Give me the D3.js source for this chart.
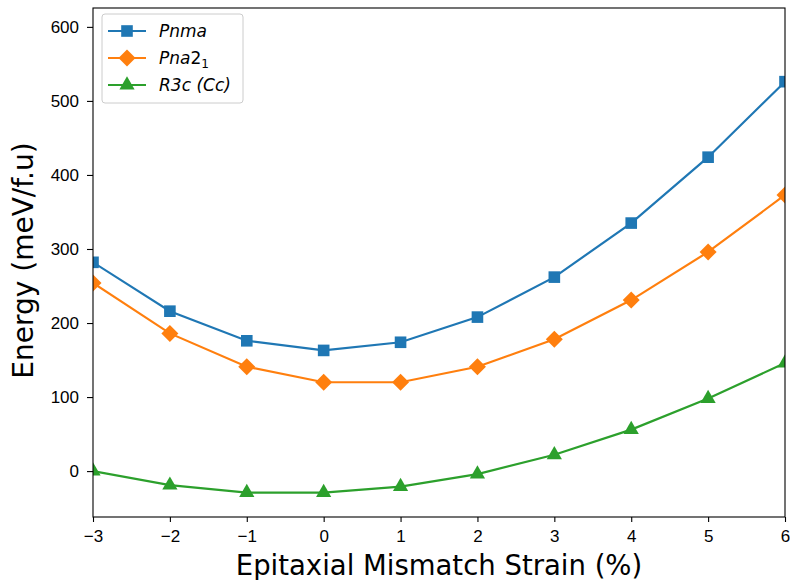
<!DOCTYPE html>
<html>
<head>
<meta charset="utf-8">
<script src="https://cdn.jsdelivr.net/npm/d3@7"></script>
<style>
  body { margin: 0; background: #fff; }
  svg { font-family: "DejaVu Sans", sans-serif; }
</style>
</head>
<body>
<div id="chart"></div>
<script>
// strain values (%) and energies (meV/f.u) per phase
var strain = [-3, -2, -1, 0, 1, 2, 3, 4, 5, 6];
var pnma = [282, 216, 176, 163, 174, 208, 262, 335, 424, 526];
var pna21 = [254, 186, 141, 120, 120, 141, 178, 231, 296, 373];
var r3c = [0, -19, -29, -29, -21, -4, 22, 56, 98, 146];
var yTicks = [0, 100, 200, 300, 400, 500, 600];

var width = 790, height = 580;
var margin = { top: 8, right: 5, bottom: 63, left: 93 };
var iw = width - margin.left - margin.right;
var ih = height - margin.top - margin.bottom;

var svg = d3.select("#chart").append("svg")
  .attr("width", width)
  .attr("height", height);

var g = svg.append("g")
  .attr("transform", `translate(${margin.left} ${margin.top})`);

var x = d3.scaleLinear().domain([-3, 6]).range([0, iw]);
var y = d3.scaleLinear().domain([-62, 625.5]).range([ih, 0]);

// axes
var minus = (d) => String(d).replace("-", "\u2212");
var xAxis = g.append("g")
  .attr("transform", `translate(0 ${ih})`)
  .call(d3.axisBottom(x).tickValues(strain).tickSize(5).tickPadding(9).tickFormat(minus));
var yAxis = g.append("g")
  .call(d3.axisLeft(y).tickValues(yTicks).tickSize(6).tickPadding(8));
[xAxis, yAxis].forEach((a) => {
  a.select(".domain").remove();
  a.selectAll("text").attr("font-size", 17).attr("fill", "#000");
  a.selectAll("line").attr("stroke", "#000").attr("stroke-width", 1.1);
});
xAxis.selectAll("text").attr("dy", "0.62em");

g.append("clipPath").attr("id", "clip")
  .append("rect").attr("width", iw).attr("height", ih);

var series = [
  { name: "Pnma", values: pnma, color: "#1f77b4", shape: d3.symbolSquare, size: 135 },
  { name: "Pna2", values: pna21, color: "#ff7f0e", shape: "diamond", size: 0 },
  { name: "R3c", values: r3c, color: "#2ca02c", shape: d3.symbolTriangle, size: 100 },
];

var diamond = (r) => `M0,${-r}L${r},0L0,${r}L${-r},0Z`;
var markerPath = (s) => s.shape == "diamond" ? diamond(8.5) : d3.symbol(s.shape, s.size)();

var line = d3.line().x((d) => x(d[0])).y((d) => y(d[1]));
var plot = g.append("g").attr("clip-path", "url(#clip)");

series.forEach((s) => {
  var pts = strain.map((v, i) => [v, s.values[i]]);
  plot.append("path")
    .attr("d", line(pts))
    .attr("fill", "none")
    .attr("stroke", s.color)
    .attr("stroke-width", 2.2);
  plot.selectAll(null).data(pts).enter().append("path")
    .attr("d", markerPath(s))
    .attr("transform", (d) => `translate(${x(d[0])} ${y(d[1])})`)
    .attr("fill", s.color);
});

// frame
g.append("rect").attr("width", iw).attr("height", ih)
  .attr("fill", "none").attr("stroke", "#000").attr("stroke-width", 1.1);

// axis labels
svg.append("text")
  .attr("x", margin.left + iw / 2).attr("y", 575)
  .attr("text-anchor", "middle").attr("font-size", 27.5)
  .text("Epitaxial Mismatch Strain (%)");
svg.append("text")
  .attr("transform", `translate(33 ${margin.top + ih / 2 - 2}) rotate(-90)`)
  .attr("text-anchor", "middle").attr("font-size", 28)
  .text("Energy (meV/f.u)");

// legend
var leg = g.append("g").attr("transform", "translate(9 6)");
leg.append("rect").attr("width", 141).attr("height", 89).attr("rx", 3)
  .attr("fill", "#fff").attr("fill-opacity", 0.8)
  .attr("stroke", "#ccc").attr("stroke-width", 1);
series.forEach((s, i) => {
  var row = leg.append("g").attr("transform", `translate(0 ${17 + i * 27})`);
  row.append("line").attr("x1", 6).attr("x2", 44)
    .attr("stroke", s.color).attr("stroke-width", 2.2);
  row.append("path").attr("d", markerPath(s))
    .attr("transform", "translate(25 0)").attr("fill", s.color);
  var t = row.append("text").attr("x", 57).attr("y", 6)
    .attr("font-size", 17).attr("fill", "#000");
  if (i == 0) {
    t.append("tspan").attr("font-style", "italic").text("Pnma");
  } else if (i == 1) {
    t.append("tspan").attr("font-style", "italic").text("Pna");
    t.append("tspan").text("2");
    t.append("tspan").attr("font-size", 12).attr("dy", 4).text("1");
  } else {
    t.append("tspan").attr("font-style", "italic").text("R3c (Cc)");
  }
});
</script>
</body>
</html>
